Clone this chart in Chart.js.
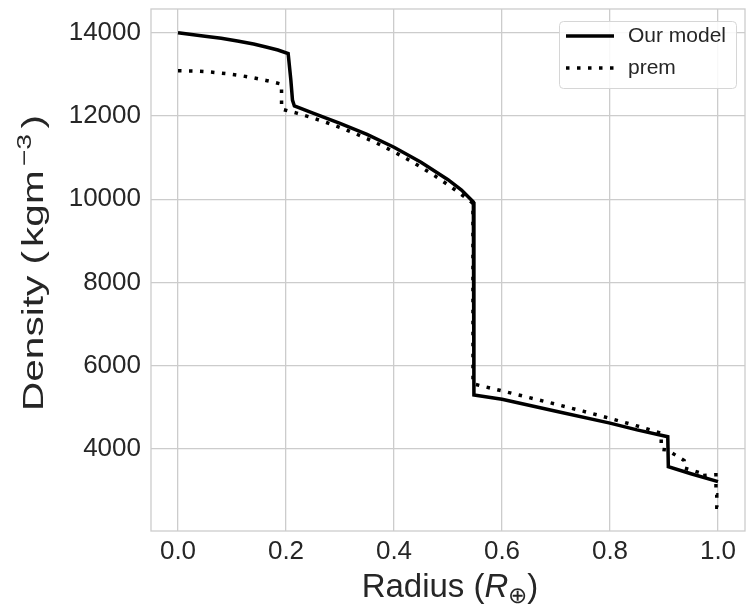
<!DOCTYPE html>
<html>
<head>
<meta charset="utf-8">
<script src="https://cdn.jsdelivr.net/npm/chart.js@4.4.0/dist/chart.umd.min.js"></script>
<style>
  html, body { margin: 0; padding: 0; background: #ffffff; }
  canvas { display: block; }
</style>
</head>
<body>
<canvas id="chart-density" width="746" height="611"></canvas>
<script>
// radius in earth radii, density in kg m^-3
var modelRadius = [0, 0.05, 0.08, 0.11, 0.14, 0.163, 0.185, 0.204, 0.209, 0.212, 0.2155, 0.25, 0.30, 0.35, 0.40, 0.45, 0.50, 0.525, 0.547, 0.548, 0.60, 0.70, 0.80, 0.85, 0.907, 0.908, 0.95, 1.0];
var modelDensity = [14000, 13915, 13865, 13800, 13730, 13656, 13585, 13500, 12860, 12380, 12240, 12070, 11820, 11560, 11250, 10890, 10470, 10220, 9935, 5300, 5195, 4905, 4622, 4460, 4296, 3576, 3405, 3215];

var premRadius = [0, 0.03, 0.06, 0.09, 0.12, 0.14, 0.163, 0.175, 0.1917, 0.1918, 0.22, 0.25, 0.275, 0.30, 0.325, 0.35, 0.375, 0.40, 0.425, 0.45, 0.475, 0.50, 0.525, 0.5462, 0.5463, 0.60, 0.65, 0.70, 0.75, 0.80, 0.85, 0.8948, 0.8949, 0.9058, 0.9059, 0.9372, 0.9373, 0.9655, 0.9656, 0.9962, 0.9963, 0.9977, 0.9978, 1.0];
var premDensity = [13088, 13080, 13057, 13017, 12961, 12915, 12854, 12818, 12764, 12166, 12068, 11951, 11843, 11725, 11596, 11456, 11304, 11139, 10962, 10771, 10567, 10348, 10114, 9903, 5566, 5396, 5237, 5075, 4909, 4736, 4554, 4381, 3992, 3976, 3976, 3724, 3543, 3436, 3360, 3381, 2900, 2900, 2600, 2600];

var xTicks = [0.0, 0.2, 0.4, 0.6, 0.8, 1.0];
var yTicks = [4000, 6000, 8000, 10000, 12000, 14000];

var FONT = "'Liberation Sans', Arial, sans-serif";
var TEXT = "#262626";
var GRID = "#cccccc";

function toPoints(xs, ys) {
    return xs.map(function (x, i) { return { x: x, y: ys[i] }; });
}

function runFont(r) {
    return (r.italic ? "italic " : "") + r.size + "px " + FONT;
}

// draw a row of text runs (normal / italic / sub / sup) centred on cx,
// stretched along the row so that it is `span` px long when given
function drawRuns(ctx, runs, cx, cy, span) {
    var widths = runs.map(function (r) {
        ctx.font = runFont(r);
        return ctx.measureText(r.text).width + (r.gap || 0);
    });
    var total = widths.reduce(function (a, b) { return a + b; }, 0);
    var k = span ? span / total : 1;
    ctx.save();
    ctx.translate(cx, cy);
    ctx.scale(k, 1);
    var x = -total / 2;
    ctx.textBaseline = "alphabetic";
    ctx.textAlign = "left";
    runs.forEach(function (r, i) {
        ctx.font = runFont(r);
        ctx.fillText(r.text, x + (r.gap || 0), r.dy || 0);
        x += widths[i];
    });
    ctx.restore();
}

var framePlugin = {
    id: "frame",
    afterDraw: function (chart) {
        var ctx = chart.ctx;
        var a = chart.chartArea;
        ctx.save();
        ctx.strokeStyle = GRID;
        ctx.lineWidth = 1.3;
        ctx.strokeRect(a.left, a.top, a.right - a.left, a.bottom - a.top);

        // axis titles
        ctx.fillStyle = TEXT;
        drawRuns(ctx, [
            { text: "Radius (", size: 33 },
            { text: "R", size: 33, italic: true },
            { text: "\u2295", size: 23, dy: 6 },
            { text: ")", size: 33 }
        ], 450, 597);

        ctx.save();
        ctx.translate(43, 263);
        ctx.rotate(-Math.PI / 2);
        drawRuns(ctx, [
            { text: "Density (", size: 30 },
            { text: "kgm", size: 30, gap: 3 },
            { text: "\u22123", size: 21, dy: -12, gap: 3 },
            { text: ")", size: 30, gap: 4 }
        ], 0, 0, 296);
        ctx.restore();

        // legend
        var bx = 559, by = 21, bw = 177, bh = 67;
        ctx.fillStyle = "rgba(255,255,255,0.85)";
        ctx.strokeStyle = "#d6d6d6";
        ctx.lineWidth = 1;
        ctx.beginPath();
        ctx.roundRect(bx + 0.5, by + 0.5, bw, bh, 4);
        ctx.fill();
        ctx.stroke();

        chart.data.datasets.forEach(function (ds, i) {
            var y = 36 + i * 32;
            ctx.strokeStyle = ds.borderColor;
            ctx.lineWidth = ds.borderWidth;
            ctx.setLineDash(ds.borderDash || []);
            ctx.beginPath();
            ctx.moveTo(566, y);
            ctx.lineTo(614, y);
            ctx.stroke();
            ctx.setLineDash([]);
            ctx.fillStyle = TEXT;
            ctx.font = "21px " + FONT;
            ctx.textAlign = "left";
            ctx.textBaseline = "middle";
            ctx.fillText(ds.label, 628, y);
        });
        ctx.restore();
    }
};

var ctx = document.getElementById("chart-density").getContext("2d");
var myChart = new Chart(ctx, {
    type: "scatter",
    data: {
        datasets: [
            {
                label: "Our model",
                data: toPoints(modelRadius, modelDensity),
                showLine: true,
                borderColor: "#000000",
                borderWidth: 3.5,
                pointRadius: 0,
                tension: 0
            },
            {
                label: "prem",
                data: toPoints(premRadius, premDensity),
                showLine: true,
                borderColor: "#000000",
                borderWidth: 3.5,
                borderDash: [3.5, 7.5],
                pointRadius: 0,
                tension: 0
            }
        ]
    },
    options: {
        responsive: false,
        animation: false,
        devicePixelRatio: 1,
        layout: {
            padding: { top: 9, right: 1, left: 0, bottom: 0 }
        },
        plugins: {
            legend: { display: false },
            tooltip: { enabled: false }
        },
        scales: {
            x: {
                type: "linear",
                min: -0.05,
                max: 1.05,
                afterBuildTicks: function (s) {
                    s.ticks = xTicks.map(function (v) { return { value: v }; });
                },
                afterFit: function (s) {
                    s.height = 80;
                    s.paddingLeft = 0;
                    s.paddingRight = 0;
                },
                ticks: {
                    color: TEXT,
                    font: { family: FONT, size: 26 },
                    padding: 5,
                    callback: function (v) { return v.toFixed(1); }
                },
                grid: { color: GRID, lineWidth: 1.3, drawTicks: false },
                border: { display: false }
            },
            y: {
                type: "linear",
                min: 2030,
                max: 14570,
                afterBuildTicks: function (s) {
                    s.ticks = yTicks.map(function (v) { return { value: v }; });
                },
                afterFit: function (s) {
                    s.width = 151;
                    s.paddingTop = 0;
                    s.paddingBottom = 0;
                },
                ticks: {
                    color: TEXT,
                    font: { family: FONT, size: 26 },
                    padding: 10,
                    callback: function (v) { return String(v); }
                },
                grid: { color: GRID, lineWidth: 1.3, drawTicks: false },
                border: { display: false }
            }
        }
    },
    plugins: [framePlugin]
});
</script>
</body>
</html>
